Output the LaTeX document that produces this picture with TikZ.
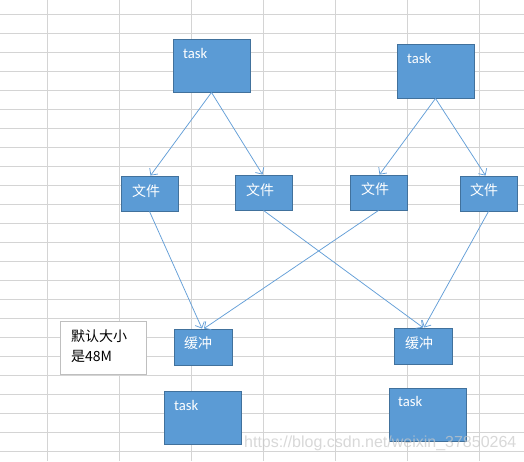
\documentclass[tikz,border=0pt]{standalone}
\usepackage{fontspec}
\setmainfont{Carlito}
\newfontfamily\cjkfont{Noto Sans CJK SC}
\newfontfamily\wmfont{Liberation Sans}
\usetikzlibrary{arrows.meta}
\definecolor{boxfill}{HTML}{5B9BD5}
\definecolor{boxline}{HTML}{41719C}
\definecolor{gridc}{HTML}{D4D4D4}
\definecolor{arrc}{HTML}{649FD8}
\definecolor{notec}{HTML}{BFBFBF}
\definecolor{wmc}{HTML}{C8C8C8}
\tikzset{
  bluebox/.style={draw=boxline, fill=boxfill, line width=0.9pt, inner sep=0pt, rectangle},
  tasklbl/.style={anchor=west, inner sep=0pt, text=white, font=\fontsize{14.67}{16}\selectfont},
  cjklbl/.style={anchor=west, inner sep=0pt, text=white, font=\cjkfont\fontsize{14}{16}\selectfont},
  arr/.style={draw=arrc, line width=0.75pt, -{Straight Barb[length=5pt,width=10pt]}},
  gridline/.style={draw=gridc, line width=1pt},
}
\begin{document}
\begin{tikzpicture}[x=1pt,y=-1pt]
\useasboundingbox (0,0) rectangle (524,461);
\fill[white] (0,0) rectangle (524,461);
% grid
\foreach \gx in {47,119,191,263,335,407,479} {\draw[gridline] (\gx,0) -- (\gx,461);}
\foreach \k in {0,...,23} {\draw[gridline] (0,14+19*\k) -- (524,14+19*\k);}
% boxes
\node[bluebox, minimum width=77pt, minimum height=53pt] (t1) at (211.5,65.5) {};
\node[bluebox, minimum width=77pt, minimum height=54pt] (t2) at (435.5,71) {};
\node[bluebox, minimum width=57pt, minimum height=35pt] (f1) at (149.5,193.5) {};
\node[bluebox, minimum width=57pt, minimum height=35pt] (f2) at (263.5,192.5) {};
\node[bluebox, minimum width=57pt, minimum height=35pt] (f3) at (378.5,192.5) {};
\node[bluebox, minimum width=57pt, minimum height=35pt] (f4) at (488.5,193.5) {};
\node[bluebox, minimum width=58pt, minimum height=36pt] (b1) at (203,347) {};
\node[bluebox, minimum width=58pt, minimum height=36pt] (b2) at (423,346) {};
\node[bluebox, minimum width=77pt, minimum height=53pt] (t3) at (202.5,417.5) {};
\node[bluebox, minimum width=77pt, minimum height=53pt] (t4) at (427.5,414.5) {};
\node[draw=notec, fill=white, line width=0.9pt, minimum width=86pt, minimum height=53pt, inner sep=0pt] (note) at (103,347.5) {};
% labels
\node[tasklbl] (t1l) at (183,53) {task};
\node[tasklbl] (t2l) at (407,58) {task};
\node[tasklbl] (t3l) at (174,405) {task};
\node[tasklbl] (t4l) at (398,401) {task};
\node[cjklbl] (f1l) at (132,191) {文件};
\node[cjklbl] (f2l) at (246,190) {文件};
\node[cjklbl] (f3l) at (361,189) {文件};
\node[cjklbl] (f4l) at (470,190) {文件};
\node[cjklbl] (b1l) at (184,343) {缓冲};
\node[cjklbl] (b2l) at (405,343) {缓冲};
\node[anchor=west, inner sep=0pt, font=\cjkfont\fontsize{14}{16}\selectfont] (n1) at (71,336) {默认大小};
\node[anchor=west, inner sep=0pt, font=\cjkfont\fontsize{14}{16}\selectfont] (n2) at (71,356) {是48M};
% connectors
\draw[arr] (t1.south) -- ([xshift=1pt]f1.north);
\draw[arr] (t1.south) -- ([xshift=-1pt]f2.north);
\draw[arr] (t2.south) -- ([xshift=1pt]f3.north);
\draw[arr] (t2.south) -- ([xshift=-3pt]f4.north);
\draw[arr] (f1.south) -- ([xshift=-1pt]b1.north);
\draw[arr] (f3.south) -- ([xshift=1pt]b1.north);
\draw[arr] (f2.south) -- (b2.north);
\draw[arr] (f4.south) -- ([xshift=1pt]b2.north);
% watermark
\node[anchor=base west, inner sep=0pt, text=wmc, text opacity=0.7, font=\wmfont\fontsize{16}{18}\selectfont] (wm) at (244,447) {https://blog.csdn.net/weixin\_37850264};
\end{tikzpicture}
\end{document}
